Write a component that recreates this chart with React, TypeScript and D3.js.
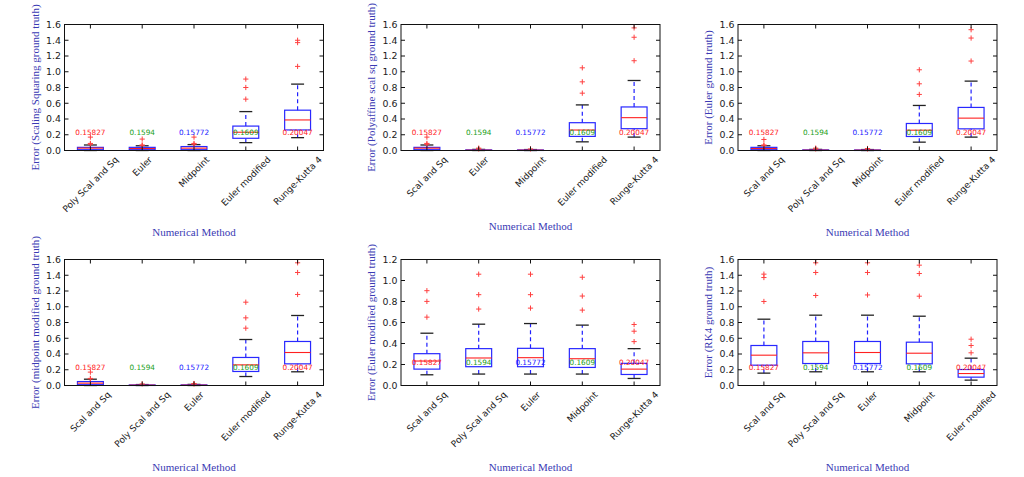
import React, { useEffect, useRef } from "react";
import * as d3 from "d3";

const W = 1024;
const H = 477;

// ---------- data ----------
const yLabels = [
  "Error (Scaling Squaring ground truth)",
  "Error (Polyaffine scal sq ground truth)",
  "Error (Euler ground truth)",
  "Error (midpoint modified ground truth)",
  "Error (Euler modified ground truth)",
  "Error (RK4 ground truth)",
];

const cats1 = ["Poly Scal and Sq", "Euler", "Midpoint", "Euler modified", "Runge-Kutta 4"];
const cats2 = ["Scal and Sq", "Euler", "Midpoint", "Euler modified", "Runge-Kutta 4"];
const cats3 = ["Scal and Sq", "Poly Scal and Sq", "Midpoint", "Euler modified", "Runge-Kutta 4"];
const cats4 = ["Scal and Sq", "Poly Scal and Sq", "Euler", "Euler modified", "Runge-Kutta 4"];
const cats5 = ["Scal and Sq", "Poly Scal and Sq", "Euler", "Midpoint", "Runge-Kutta 4"];
const cats6 = ["Scal and Sq", "Poly Scal and Sq", "Euler", "Midpoint", "Euler modified"];

// [lower whisker, q1, median, q3, upper whisker]
const stats1 = [
  [0.0, 0.01, 0.03, 0.04, 0.07],
  [0.0, 0.01, 0.025, 0.04, 0.06],
  [0.0, 0.01, 0.03, 0.05, 0.075],
  [0.1, 0.155, 0.232, 0.31, 0.494],
  [0.163, 0.261, 0.388, 0.512, 0.843],
];
const fliers1 = [[0.08, 0.09, 0.17], [0.065, 0.07, 0.145], [0.08, 0.09, 0.17], [0.652, 0.8, 0.907], [1.068, 1.37, 1.4]];

const stats2 = [
  [0.0, 0.01, 0.03, 0.04, 0.07],
  [0.0, 0.002, 0.004, 0.008, 0.014],
  [0.0, 0.002, 0.004, 0.007, 0.012],
  [0.11, 0.179, 0.26, 0.353, 0.579],
  [0.17, 0.277, 0.417, 0.553, 0.889],
];
const fliers2 = [[0.08, 0.09, 0.17], [0.02, 0.03], [0.02], [0.728, 0.872, 1.05], [1.14, 1.438, 1.557]];

const stats3 = [
  [0.0, 0.01, 0.025, 0.04, 0.06],
  [0.0, 0.002, 0.004, 0.008, 0.014],
  [0.0, 0.002, 0.004, 0.007, 0.012],
  [0.106, 0.178, 0.258, 0.343, 0.572],
  [0.17, 0.275, 0.411, 0.547, 0.881],
];
const fliers3 = [[0.065, 0.07, 0.14], [0.02, 0.03], [0.02, 0.025], [0.712, 0.847, 1.025], [1.136, 1.428, 1.534]];

const stats4 = [
  [0.0, 0.01, 0.03, 0.05, 0.08],
  [0.0, 0.002, 0.004, 0.007, 0.012],
  [0.0, 0.002, 0.004, 0.008, 0.014],
  [0.114, 0.178, 0.262, 0.356, 0.584],
  [0.174, 0.275, 0.419, 0.559, 0.889],
];
const fliers4 = [[0.085, 0.09, 0.17], [0.02], [0.02, 0.025], [0.728, 0.859, 1.058], [1.156, 1.435, 1.558]];

const stats5 = [
  [0.102, 0.156, 0.233, 0.303, 0.498],
  [0.109, 0.179, 0.262, 0.351, 0.584],
  [0.109, 0.179, 0.265, 0.354, 0.59],
  [0.109, 0.172, 0.255, 0.351, 0.575],
  [0.067, 0.105, 0.156, 0.211, 0.351],
];
const fliers5 = [[0.651, 0.801, 0.903], [0.728, 0.865, 1.06], [0.737, 0.865, 1.06], [0.718, 0.852, 1.031], [0.418, 0.517, 0.581]];

const stats6 = [
  [0.157, 0.258, 0.385, 0.508, 0.842],
  [0.174, 0.279, 0.415, 0.559, 0.893],
  [0.174, 0.279, 0.419, 0.559, 0.893],
  [0.174, 0.275, 0.41, 0.55, 0.88],
  [0.068, 0.106, 0.152, 0.203, 0.347],
];
const fliers6 = [[1.067, 1.371, 1.414], [1.143, 1.435, 1.558], [1.15, 1.435, 1.558], [1.134, 1.422, 1.528], [0.415, 0.508, 0.588]];

const meanLabels = ["0.15827", "0.1594", "0.15772", "0.1609", "0.20047"];
const meanColors = ["#ff2020", "#20a020", "#2020ff", "#20a020", "#ff2020"];
const meanLabelY = 0.2;

const yTicksLong = [0, 0.2, 0.4, 0.6, 0.8, 1.0, 1.2, 1.4, 1.6];
const yTicksShort = [0, 0.2, 0.4, 0.6, 0.8, 1.0, 1.2];
const xLabel = "Numerical Method";

const panelCats = [cats1, cats2, cats3, cats4, cats5, cats6];
const panelStats = [stats1, stats2, stats3, stats4, stats5, stats6];
const panelFliers = [fliers1, fliers2, fliers3, fliers4, fliers5, fliers6];
const panelTicks = [yTicksLong, yTicksLong, yTicksLong, yTicksLong, yTicksShort, yTicksLong];

// ---------- layout ----------
const colX = [64.5, 401, 738];
const rowY = [24.5, 259.5];
const AW = 259;
const AH = 126;

export default function App() {
  const ref = useRef<SVGSVGElement | null>(null);

  useEffect(() => {
    const svg = d3.select(ref.current);
    svg.selectAll("*").remove();
    svg.append("rect").attr("width", W).attr("height", H).attr("fill", "white");

    panelCats.forEach((cats, p) => {
      const x0 = colX[p % 3];
      const y0 = rowY[Math.floor(p / 3)];
      const ticks = panelTicks[p];
      const yMax = ticks[ticks.length - 1];
      const x = d3.scaleLinear().domain([0.5, 5.5]).range([x0, x0 + AW]);
      const y = d3.scaleLinear().domain([0, yMax]).range([y0 + AH, y0]);
      const g = svg.append("g");
      const stats = panelStats[p];
      const fl = panelFliers[p];

      stats.forEach((s, i) => {
        const c = i + 1;
        const bl = x(c - 0.25);
        const br = x(c + 0.25);
        const cl = x(c - 0.125);
        const cr = x(c + 0.125);
        // whiskers
        g.append("line").attr("x1", x(c)).attr("x2", x(c)).attr("y1", y(s[0])).attr("y2", y(s[1]))
          .attr("stroke", "#2020ff").attr("stroke-width", 1.2).attr("stroke-dasharray", "4,3");
        g.append("line").attr("x1", x(c)).attr("x2", x(c)).attr("y1", y(s[3])).attr("y2", y(s[4]))
          .attr("stroke", "#2020ff").attr("stroke-width", 1.2).attr("stroke-dasharray", "4,3");
        // caps
        [s[0], s[4]].forEach((v) => {
          g.append("line").attr("x1", cl).attr("x2", cr).attr("y1", y(v)).attr("y2", y(v))
            .attr("stroke", "#222").attr("stroke-width", 1.3);
        });
        // box
        g.append("rect").attr("x", bl).attr("width", br - bl).attr("y", y(s[3]))
          .attr("height", Math.max(0.5, y(s[1]) - y(s[3]))).attr("fill", "none")
          .attr("stroke", "#2828ff").attr("stroke-width", 1.2);
        // median
        g.append("line").attr("x1", bl).attr("x2", br).attr("y1", y(s[2])).attr("y2", y(s[2]))
          .attr("stroke", "#ff2020").attr("stroke-width", 1.1);
        // fliers
        fl[i].forEach((v) => {
          const px = x(c);
          const py = y(v);
          g.append("path").attr("d", `M${px - 2.6},${py}H${px + 2.6}M${px},${py - 2.6}V${py + 2.6}`)
            .attr("stroke", "#ff4040").attr("stroke-width", 1).attr("fill", "none");
        });
      });

      // mean labels
      meanLabels.forEach((t, i) => {
        g.append("text").attr("x", x(i + 1)).attr("y", y(meanLabelY)).attr("text-anchor", "middle")
          .attr("font-family", "DejaVu Sans").attr("font-size", 7.3).attr("fill", meanColors[i]).text(t);
      });

      // frame
      g.append("rect").attr("x", x0).attr("y", y0).attr("width", AW).attr("height", AH)
        .attr("fill", "none").attr("stroke", "#111").attr("stroke-width", 1);

      // y ticks
      ticks.forEach((v) => {
        const py = y(v);
        g.append("line").attr("x1", x0).attr("x2", x0 + 4).attr("y1", py).attr("y2", py).attr("stroke", "#111");
        g.append("line").attr("x1", x0 + AW - 4).attr("x2", x0 + AW).attr("y1", py).attr("y2", py).attr("stroke", "#111");
        g.append("text").attr("x", x0 - 3.5).attr("y", py).attr("dy", "0.36em").attr("text-anchor", "end")
          .attr("font-family", "DejaVu Sans").attr("font-size", 9.4).attr("fill", "#1a1a1a").text(v.toFixed(1));
      });

      // x ticks + labels
      let maxBottom = y0 + AH;
      cats.forEach((name, i) => {
        const px = x(i + 1);
        g.append("line").attr("x1", px).attr("x2", px).attr("y1", y0 + AH).attr("y2", y0 + AH - 4).attr("stroke", "#111");
        g.append("line").attr("x1", px).attr("x2", px).attr("y1", y0).attr("y2", y0 + 4).attr("stroke", "#111");
        const fs = 9;
        const t = g.append("text").attr("text-anchor", "middle").attr("dy", "0.36em")
          .attr("font-family", "DejaVu Sans").attr("font-size", fs).attr("fill", "#1a1a1a").text(name);
        const L = (t.node() as SVGTextElement).getComputedTextLength();
        const half = ((L + fs * 1.1) * Math.SQRT1_2) / 2;
        const cy = y0 + AH + 4 + half;
        t.attr("transform", `translate(${px},${cy}) rotate(-45)`);
        maxBottom = Math.max(maxBottom, cy + half);
      });

      // x label
      g.append("text").attr("x", x0 + AW / 2).attr("y", maxBottom + 22).attr("text-anchor", "middle")
        .attr("font-family", "Liberation Serif").attr("font-size", 11).attr("fill", "#3a3ab4").text(xLabel);

      // y label
      g.append("text").attr("transform", `translate(${x0 - 29.5},${y0 + AH / 2}) rotate(-90)`)
        .attr("dy", "0.35em").attr("text-anchor", "middle")
        .attr("font-family", "Liberation Serif").attr("font-size", 11).attr("fill", "#3a3ab4").text(yLabels[p]);
    });
  }, []);

  return (
    <svg
      ref={ref}
      width={W}
      height={H}
      style={{ position: "absolute", left: 0, top: 0, display: "block" }}
    />
  );
}
